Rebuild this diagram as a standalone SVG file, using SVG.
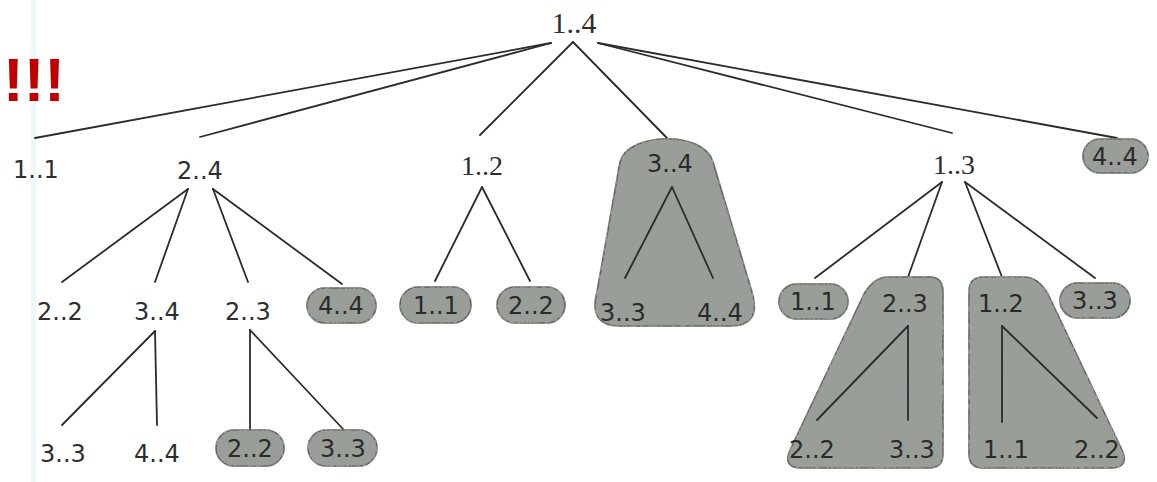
<svg xmlns="http://www.w3.org/2000/svg" width="1157" height="482" viewBox="0 0 1157 482">
<defs>
<filter id="tex" x="-5%" y="-5%" width="110%" height="110%">
<feTurbulence type="fractalNoise" baseFrequency="0.5 0.2" numOctaves="2" seed="7" result="n"/>
<feColorMatrix in="n" type="matrix" values="0 0 0 0 0.32 0 0 0 0 0.34 0 0 0 0 0.32 4 0 0 0 -1.7" result="d"/>
<feComposite in="d" in2="SourceGraphic" operator="in" result="d2"/>
<feMerge><feMergeNode in="SourceGraphic"/><feMergeNode in="d2"/></feMerge>
</filter>
</defs>
<style>
.bg{fill:#ffffff}
.edge{stroke:#2b2b2b;stroke-width:1.8;fill:none;stroke-linecap:round}
.blob{fill:#9a9e98;stroke:#5f625e;stroke-width:1.6;filter:url(#tex)}
.s{font-family:"DejaVu Sans","Liberation Sans",sans-serif;font-size:24px;fill:#2e2e2e;text-anchor:middle}
.r{font-family:"Liberation Serif","DejaVu Serif",serif;font-size:28px;fill:#2e2e2e;text-anchor:middle}
.in{font-family:"DejaVu Sans","Liberation Sans",sans-serif;font-size:24px;fill:#2a2a2a;text-anchor:middle}
.red{font-family:"Liberation Sans",Arial,sans-serif;font-weight:bold;font-size:62px;fill:#c00000}
</style>
<rect class="bg" x="0" y="0" width="1157" height="482"/>
<rect x="31" y="0" width="5" height="482" fill="#eef7f9"/>
<text class="red" x="3" y="101">!!!</text>

<g id="connectors">
<line class="edge" x1="551" y1="43" x2="35" y2="138"/>
<line class="edge" x1="551" y1="43" x2="200" y2="137"/>
<line class="edge" x1="573" y1="42" x2="480" y2="135"/>
<line class="edge" x1="573" y1="42" x2="667" y2="138"/>
<line class="edge" x1="598" y1="43" x2="952" y2="133"/>
<line class="edge" x1="598" y1="43" x2="1117" y2="138"/>
<line class="edge" x1="188" y1="189" x2="62" y2="282"/>
<line class="edge" x1="188" y1="189" x2="155" y2="282"/>
<line class="edge" x1="213" y1="189" x2="248" y2="282"/>
<line class="edge" x1="213" y1="189" x2="342" y2="284"/>
<line class="edge" x1="155" y1="331" x2="62" y2="425"/>
<line class="edge" x1="155" y1="331" x2="157" y2="425"/>
<line class="edge" x1="250" y1="330" x2="250" y2="429"/>
<line class="edge" x1="250" y1="330" x2="343" y2="429"/>
<line class="edge" x1="482" y1="187" x2="435" y2="281"/>
<line class="edge" x1="482" y1="187" x2="530" y2="281"/>
<line class="edge" x1="942" y1="182" x2="815" y2="278"/>
<line class="edge" x1="942" y1="182" x2="908" y2="277"/>
<line class="edge" x1="965" y1="182" x2="1002" y2="277"/>
<line class="edge" x1="965" y1="182" x2="1095" y2="278"/>
</g>

<g id="n14"><text class="r" x="574" y="33" style="font-size:30px">1..4</text></g>
<g id="n11a"><text class="s" x="36" y="178">1..1</text></g>
<g id="n24"><text class="s" x="200" y="179">2..4</text></g>
<g id="n12a"><text class="r" x="482" y="175">1..2</text></g>
<g id="n13"><text class="r" x="954" y="174">1..3</text></g>
<g id="n44a">
<rect class="blob" x="1083" y="139" width="65" height="34" rx="17"/>
<text class="in" x="1115" y="165">4..4</text>
</g>

<g id="n34a">
<path class="blob" d="M 620 162 C 628 132, 704 130, 713 162 L 752 292 Q 762 326 730 326 L 620 326 Q 588 326 597 292 Z"/>
<text class="in" x="670" y="172">3..4</text>
<line class="edge" x1="672" y1="187" x2="625" y2="278"/>
<line class="edge" x1="672" y1="187" x2="713" y2="278"/>
<text class="in" x="623" y="321">3..3</text>
<text class="in" x="720" y="321">4..4</text>
</g>

<g id="n22a"><text class="s" x="60" y="320">2..2</text></g>
<g id="n34b"><text class="s" x="157" y="320">3..4</text></g>
<g id="n23a"><text class="s" x="248" y="320">2..3</text></g>
<g id="n44b">
<rect class="blob" x="307" y="288" width="69" height="35" rx="17.5"/>
<text class="in" x="341" y="314">4..4</text>
</g>
<g id="n11b">
<rect class="blob" x="400" y="287" width="71" height="36" rx="18"/>
<text class="in" x="436" y="314">1..1</text>
</g>
<g id="n22b">
<rect class="blob" x="497" y="287" width="68" height="36" rx="18"/>
<text class="in" x="531" y="314">2..2</text>
</g>
<g id="n11c">
<rect class="blob" x="779" y="284" width="69" height="35" rx="17.5"/>
<text class="in" x="813" y="310">1..1</text>
</g>
<g id="n23b">
<path class="blob" d="M 888 277 L 930 277 Q 943 277 943 292 L 943 454 Q 943 468 929 468 L 802 468 Q 782 468 790 450 L 864 294 Q 874 277 888 277 Z"/>
<text class="in" x="905" y="312">2..3</text>
<line class="edge" x1="908" y1="326" x2="817" y2="420"/>
<line class="edge" x1="908" y1="326" x2="908" y2="420"/>
<text class="in" x="812" y="458">2..2</text>
<text class="in" x="912" y="458">3..3</text>
</g>
<g id="n12b">
<path class="blob" d="M 983 277 L 1024 277 Q 1038 277 1048 294 L 1122 450 Q 1130 468 1110 468 L 983 468 Q 969 468 969 454 L 969 292 Q 969 277 983 277 Z"/>
<text class="in" x="1001" y="312">1..2</text>
<line class="edge" x1="1002" y1="326" x2="1002" y2="422"/>
<line class="edge" x1="1002" y1="326" x2="1097" y2="418"/>
<text class="in" x="1006" y="458">1..1</text>
<text class="in" x="1097" y="458">2..2</text>
</g>
<g id="n33a">
<rect class="blob" x="1060" y="283" width="70" height="35" rx="17.5"/>
<text class="in" x="1095" y="309">3..3</text>
</g>

<g id="n33b"><text class="s" x="63" y="462">3..3</text></g>
<g id="n44c"><text class="s" x="157" y="462">4..4</text></g>
<g id="n22c">
<rect class="blob" x="216" y="430" width="68" height="36" rx="18"/>
<text class="in" x="250" y="457">2..2</text>
</g>
<g id="n33c">
<rect class="blob" x="308" y="430" width="69" height="36" rx="18"/>
<text class="in" x="343" y="457">3..3</text>
</g>
</svg>
